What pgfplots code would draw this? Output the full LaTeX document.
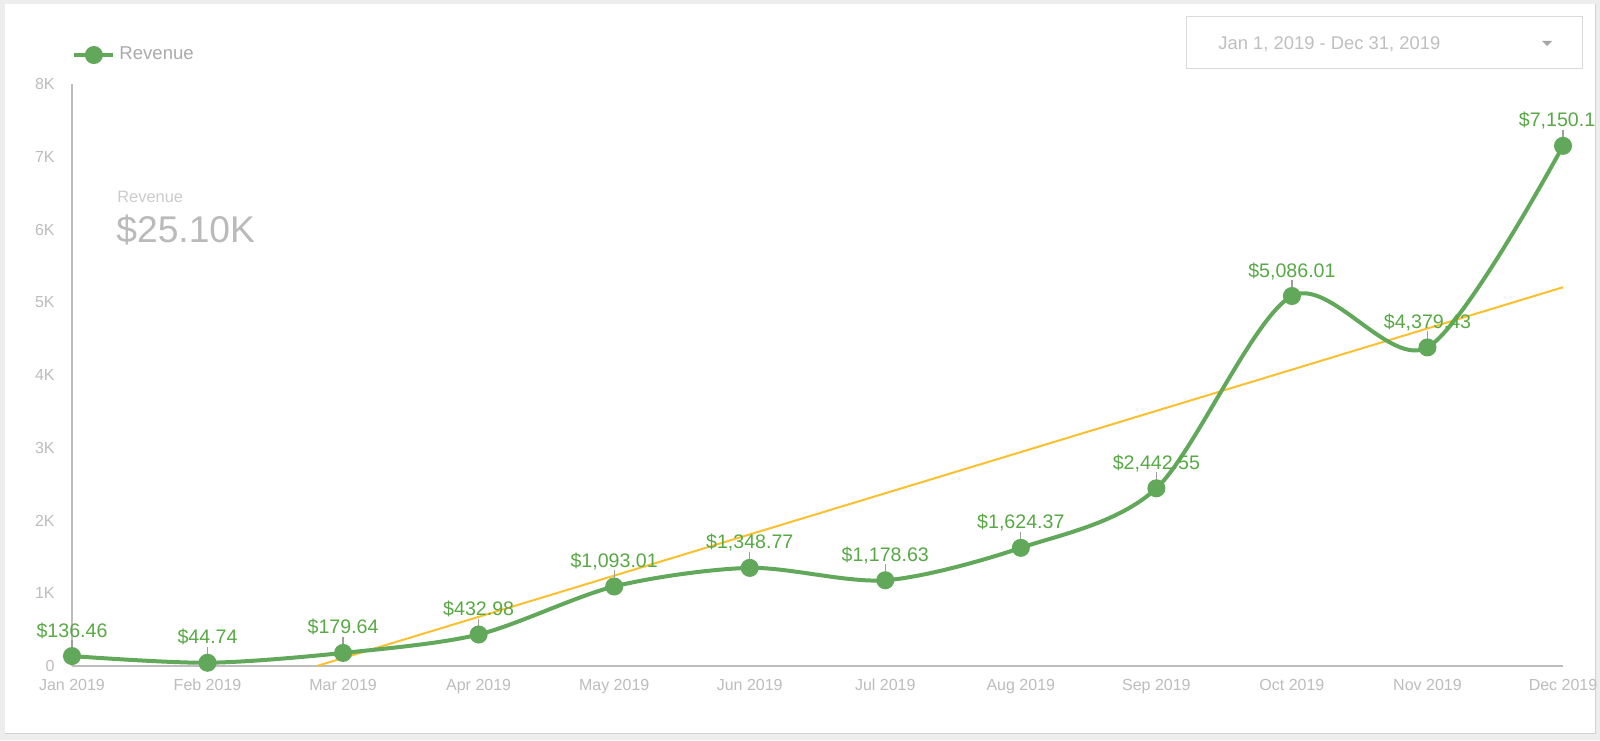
\documentclass[border=0pt]{standalone}
\usepackage{fontspec}
\setmainfont{Liberation Sans}
\usepackage{pgfplots}
\usepackage{pgfplotstable}
\pgfplotsset{compat=1.18}

% 1 px of the reference = 0.5pt
\definecolor{revgreen}{HTML}{62A85A}
\definecolor{labgreen}{HTML}{58A945}
\definecolor{trendyellow}{HTML}{FBC02D}
\definecolor{axisgray}{HTML}{BDBDBD}
\definecolor{ticktext}{HTML}{BDBDBD}
\definecolor{conngray}{HTML}{9E9E9E}
\definecolor{bggray}{HTML}{EDEDED}

\pgfdeclareplotmark{tick up}{%
  \pgfpathmoveto{\pgfqpoint{0pt}{3pt}}%
  \pgfpathlineto{\pgfqpoint{0pt}{8pt}}%
  \pgfusepathqstroke}

\pgfplotstableread{
x   rev      lab
0   136.46   136.46
1   44.74    44.74
2   179.64   179.64
3   432.98   432.98
4   1093.01  1,093.01
5   1348.77  1,348.77
6   1178.63  1,178.63
7   1624.37  1,624.37
8   2442.55  2,442.55
9   5086.01  5,086.01
10  4379.43  4,379.43
11  7150.1   7,150.1
}\revtable

% linear trend (least squares over the 12 months)
\pgfplotstableread{
x      y
1.807  0
11     5206.4
}\trendtable

\begin{document}
\begin{tikzpicture}
  % page and card
  \useasboundingbox (0,0) rectangle (800pt,370pt);
  \fill[bggray] (0,0) rectangle (800pt,370pt);
  \fill[black!18] (2.5pt,2.8pt) rectangle (797.8pt,368pt);
  \fill[white] (2.5pt,3.5pt) rectangle (797.5pt,368pt);

  % date range box
  \draw[black!14, line width=0.5pt] (593pt,335.5pt) rectangle (791pt,361.5pt);
  \node[anchor=base west, inner sep=0pt, text=black!25, font=\fontsize{9.2pt}{10pt}\selectfont]
    at (609pt,345pt) {Jan 1, 2019 - Dec 31, 2019};
  \fill[black!35] (771pt,349.5pt) -- (776pt,349.5pt) -- (773.5pt,347pt) -- cycle;

  % scorecard
  \node[anchor=base west, inner sep=0pt, text=black!20, font=\fontsize{8.2pt}{9pt}\selectfont]
    at (58.5pt,268.5pt) {Revenue};
  \node[anchor=base west, inner sep=0pt, text=black!27, font=\fontsize{18.6pt}{20pt}\selectfont]
    at (58pt,248.5pt) {\$25.10K};

  \begin{axis}[
      at={(36pt,37pt)}, anchor=south west,
      scale only axis,
      width=745.5pt, height=291pt,
      xmin=0, xmax=11, ymin=0, ymax=8000,
      clip=false,
      axis x line=bottom, axis y line=left,
      axis line style={draw=axisgray, line width=0.6pt, -},
      major tick length=0pt,
      xtick={0,...,11},
      xticklabels={Jan 2019,Feb 2019,Mar 2019,Apr 2019,May 2019,Jun 2019,
                   Jul 2019,Aug 2019,Sep 2019,Oct 2019,Nov 2019,Dec 2019},
      ytick={0,1000,...,8000},
      yticklabels={0,1K,2K,3K,4K,5K,6K,7K,8K},
      xticklabel style={anchor=base, inner sep=0pt, yshift=-12pt,
                        text=ticktext, font=\fontsize{8pt}{9pt}\selectfont},
      yticklabel style={anchor=east, inner sep=0pt, xshift=-8.5pt,
                        text=ticktext, font=\fontsize{8pt}{9pt}\selectfont},
      legend style={at={(axis description cs:0,1.0498)}, anchor=west,
                    draw=none, fill=none, inner sep=0pt,
                    font=\fontsize{9.3pt}{10pt}\selectfont, text=black!33},
      legend image code/.code={
        \draw[revgreen, line width=2pt] (0pt,0pt) -- (19.5pt,0pt);
        \fill[revgreen] (9.75pt,0pt) circle (3.5pt);
      },
    ]
    % trend line
    \addplot[trendyellow, line width=1pt, forget plot] table[x=x, y=y] {\trendtable};

    % label connectors
    \addplot[only marks, mark=tick up, mark options={draw=conngray, line width=0.6pt},
             forget plot] table[x=x, y=rev] {\revtable};

    % revenue line
    \addplot[revgreen, line width=2pt, smooth, mark=*, mark size=3.5pt,
             mark options={draw=none, fill=revgreen}]
      table[x=x, y=rev] {\revtable};
    \addlegendentry{Revenue}

    % data labels
    \addplot[draw=none, mark=none, forget plot, restrict x to domain=0:10,
             point meta=explicit symbolic,
             nodes near coords={\$\pgfplotspointmeta},
             every node near coord/.append style={anchor=base, inner sep=0pt,
               yshift=9.5pt, text=labgreen, font=\fontsize{9.8pt}{10pt}\selectfont}]
      table[x=x, y=rev, meta=lab] {\revtable};
    \addplot[draw=none, mark=none, forget plot, restrict x to domain=11:11,
             point meta=explicit symbolic,
             nodes near coords={\$\pgfplotspointmeta},
             every node near coord/.append style={anchor=base, inner sep=0pt,
               yshift=9.5pt, xshift=-3pt, text=labgreen, font=\fontsize{9.8pt}{10pt}\selectfont}]
      table[x=x, y=rev, meta=lab] {\revtable};
  \end{axis}
\end{tikzpicture}
\end{document}
